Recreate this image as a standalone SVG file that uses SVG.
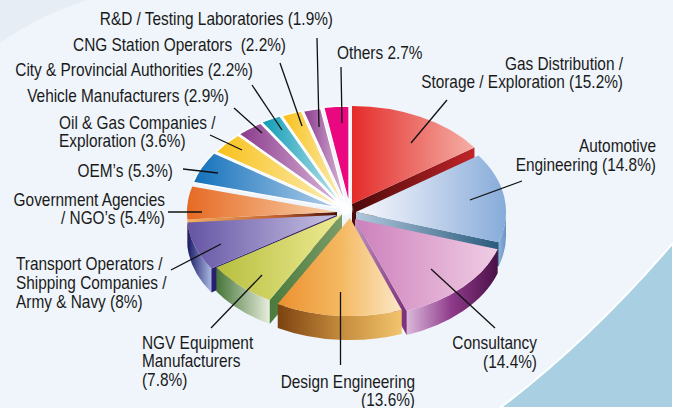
<svg xmlns="http://www.w3.org/2000/svg" width="673" height="408" viewBox="0 0 673 408">
<defs>
<style>
text{font-family:"Liberation Sans",Arial,sans-serif;font-size:17.5px;fill:#1a1a1a}
.e{text-anchor:end}
.ld{stroke:#111;stroke-width:1.3;fill:none}
.sm{stroke:#fff;stroke-width:1.3;stroke-linejoin:round}
</style>
<linearGradient id="gRed"><stop offset="0" stop-color="#e42c2a"/><stop offset="1" stop-color="#f4b0a6"/></linearGradient>
<linearGradient id="gRedSide"><stop offset="0" stop-color="#4c0a0a"/><stop offset="1" stop-color="#c02428"/></linearGradient>
<linearGradient id="gAuto"><stop offset="0" stop-color="#f6f7fc"/><stop offset="0.4" stop-color="#cfdcf0"/><stop offset="1" stop-color="#86abd9"/></linearGradient>
<linearGradient id="gAutoSide"><stop offset="0" stop-color="#b0c8dc"/><stop offset="1" stop-color="#2a5a7c"/></linearGradient>
<linearGradient id="gAutoRim"><stop offset="0" stop-color="#8fb2dc"/><stop offset="1" stop-color="#6a94c4"/></linearGradient>
<linearGradient id="gCons"><stop offset="0" stop-color="#cc80bb"/><stop offset="1" stop-color="#f0cde4"/></linearGradient>
<linearGradient id="gConsRim" gradientUnits="userSpaceOnUse" x1="406" y1="0" x2="498" y2="0"><stop offset="0" stop-color="#dcbadb"/><stop offset="0.5" stop-color="#8e3a8a"/><stop offset="1" stop-color="#4a1046"/></linearGradient>
<linearGradient id="gConsSide"><stop offset="0" stop-color="#c090c0"/><stop offset="1" stop-color="#7a3078"/></linearGradient>
<linearGradient id="gDes"><stop offset="0" stop-color="#ec9030"/><stop offset="0.5" stop-color="#f4b860"/><stop offset="1" stop-color="#fbe8c8"/></linearGradient>
<linearGradient id="gDesRim"><stop offset="0" stop-color="#7c4210"/><stop offset="0.5" stop-color="#c48a3c"/><stop offset="1" stop-color="#f2c46c"/></linearGradient>
<linearGradient id="gNgv"><stop offset="0" stop-color="#b6bf3e"/><stop offset="1" stop-color="#efeb94"/></linearGradient>
<linearGradient id="gNgvRim"><stop offset="0" stop-color="#46753a"/><stop offset="1" stop-color="#e8eedc"/></linearGradient>
<linearGradient id="gNgvSide"><stop offset="0" stop-color="#4a7a3c"/><stop offset="1" stop-color="#7c9c68"/></linearGradient>
<linearGradient id="gTr"><stop offset="0" stop-color="#6454a4"/><stop offset="1" stop-color="#c8c2e4"/></linearGradient>
<linearGradient id="gTrRim"><stop offset="0" stop-color="#1a1866"/><stop offset="1" stop-color="#a9b9e2"/></linearGradient>
<linearGradient id="gGov"><stop offset="0" stop-color="#e66a24"/><stop offset="1" stop-color="#f9d2ac"/></linearGradient>
<linearGradient id="gGovSide"><stop offset="0" stop-color="#f6b060"/><stop offset="0.6" stop-color="#c06030"/><stop offset="1" stop-color="#4a1008"/></linearGradient>
<linearGradient id="gOem"><stop offset="0" stop-color="#1170ba"/><stop offset="1" stop-color="#b4d0ea"/></linearGradient>
<linearGradient id="gYel"><stop offset="0" stop-color="#f8c018"/><stop offset="1" stop-color="#fbeeb8"/></linearGradient>
<linearGradient id="gPur"><stop offset="0" stop-color="#8a3a8c"/><stop offset="1" stop-color="#dcbcdc"/></linearGradient>
<linearGradient id="gCity"><stop offset="0" stop-color="#0e9cb6"/><stop offset="1" stop-color="#bfe3ec"/></linearGradient>
<radialGradient id="gBurst"><stop offset="0" stop-color="#fff"/><stop offset="0.6" stop-color="#fff" stop-opacity="0.8"/><stop offset="1" stop-color="#fff" stop-opacity="0"/></radialGradient>
</defs>
<rect width="673" height="408" fill="#e6edf4"/>
<path d="M0,43 Q40,15 88,0 L673,0 L673,408 L0,408 Z" fill="#eff5fa"/>
<path d="M673,243 Q590,340 500,408 L673,408 Z" fill="#a9cfe3" stroke="#fff" stroke-width="2"/>

<g id="others"><path class="sm" d="M349,204 L323.68,107.41 A150,98 0 0 1 349,106 Z" fill="#e9087f"/><text transform="translate(337,59) scale(0.88,1)">Others 2.7%</text></g>
<g id="rnd"><path class="sm" d="M346,205 L303.25,111.07 A150,98 0 0 1 320.68,108.41 Z" fill="url(#gPur)"/><text class="e" transform="translate(333,25) scale(0.88,1)">R&amp;D / Testing Laboratories (1.9%)</text></g>
<g id="cng"><path class="sm" d="M344,205 L281.84,115.81 A150,98 0 0 1 301.25,111.07 Z" fill="url(#gYel)"/><text class="e" transform="translate(286,51) scale(0.88,1)" style="white-space:pre">CNG Station Operators  (2.2%)</text></g>
<g id="city"><path class="sm" d="M342,205 L261.63,122.26 A150,98 0 0 1 279.84,115.81 Z" fill="url(#gCity)"/><text class="e" transform="translate(253,76) scale(0.88,1)">City &amp; Provincial Authorities (2.2%)</text></g>
<g id="vehicle"><path class="sm" d="M341,206 L239,134.15 A150,98 0 0 1 260.63,123.26 Z" fill="url(#gPur)"/><text class="e" transform="translate(229,102) scale(0.88,1)">Vehicle Manufacturers (2.9%)</text></g>
<g id="oilgas"><path class="sm" d="M340,207 L215.93,151.91 A150,98 0 0 1 238,135.15 Z" fill="url(#gYel)"/><text transform="translate(59,129) scale(0.88,1)">Oil &amp; Gas Companies /</text><text transform="translate(59,147) scale(0.88,1)">Exploration (3.6%)</text></g>
<g id="oem"><path class="sm" d="M338,208 L193.19,182.44 A150,98 0 0 1 213.93,152.91 Z" fill="url(#gOem)"/><text class="e" transform="translate(173,177) scale(0.88,1)">OEM’s (5.3%)</text></g>

<g id="gas"><path d="M352,204 L474.46,147.4 L474.46,171.4 L352,228 Z" fill="url(#gRedSide)"/><path d="M352,204 L352,106 A150,98 0 0 1 474.46,147.4 Z" fill="url(#gRed)"/><text class="e" transform="translate(623,70) scale(0.88,1)">Gas Distribution /</text><text class="e" transform="translate(623,88) scale(0.88,1)">Storage / Exploration (15.2%)</text></g>
<g id="government"><path d="M337,212 L187.42,219.38 L187.42,243.38 L337,236 Z" fill="url(#gGovSide)"/><path d="M337,212 L187.42,219.38 A150,98 0 0 1 192.19,186.44 Z" fill="url(#gGov)"/><text class="e" transform="translate(165,206) scale(0.88,1)">Government Agencies</text><text class="e" transform="translate(165,224) scale(0.88,1)">/ NGO’s (5.4%)</text></g>
<g id="automotive"><path d="M506,212 A150,98 0 0 1 498.67,242.28 L498.67,266.28 A150,98 0 0 0 506,236 Z" fill="url(#gAutoRim)"/><path d="M356,212 L498.67,242.28 L498.67,266.28 L356,236 Z" fill="url(#gAutoSide)"/><path d="M356,212 L478.46,155.4 A150,98 0 0 1 498.67,242.28 Z" fill="url(#gAuto)"/><text class="e" transform="translate(656,152) scale(0.88,1)">Automotive</text><text class="e" transform="translate(656,171) scale(0.88,1)">Engineering (14.8%)</text></g>
<g id="transport"><path d="M211.36,268.54 A150,98 0 0 1 187.42,222.38 L187.42,246.38 A150,98 0 0 0 211.36,292.54 Z" fill="url(#gTrRim)"/><path d="M337,215 L211.36,268.54 L211.36,292.54 L337,239 Z" fill="#2a1e70"/><path d="M337,215 L211.36,268.54 A150,98 0 0 1 187.42,222.38 Z" fill="url(#gTr)"/><text transform="translate(16,270) scale(0.88,1)">Transport Operators /</text><text transform="translate(16,289) scale(0.88,1)">Shipping Companies /</text><text transform="translate(16,308) scale(0.88,1)">Army &amp; Navy (8%)</text></g>
<g id="consultancy"><path d="M497.67,249.28 A150,98 0 0 1 406.71,310.99 L406.71,334.99 A150,98 0 0 0 497.67,273.28 Z" fill="url(#gConsRim)"/><path d="M355,219 L406.71,310.99 L406.71,334.99 L355,243 Z" fill="url(#gConsSide)"/><path d="M355,219 L497.67,249.28 A150,98 0 0 1 406.71,310.99 Z" fill="url(#gCons)"/><text class="e" transform="translate(537,349) scale(0.88,1)">Consultancy</text><text class="e" transform="translate(537,368) scale(0.88,1)">(14.4%)</text></g>
<g id="ngv"><path d="M269.73,299.88 A150,98 0 0 1 216.36,267.54 L216.36,291.54 A150,98 0 0 0 269.73,323.88 Z" fill="url(#gNgvRim)"/><path d="M342,214 L269.73,299.88 L269.73,323.88 L342,238 Z" fill="url(#gNgvSide)"/><path d="M342,214 L269.73,299.88 A150,98 0 0 1 216.36,267.54 Z" fill="url(#gNgv)"/><text transform="translate(142,349) scale(0.88,1)">NGV Equipment</text><text transform="translate(142,367) scale(0.88,1)">Manufacturers</text><text transform="translate(142,386) scale(0.88,1)">(7.8%)</text></g>
<g id="design"><path d="M401.71,309.99 A150,98 0 0 1 277.73,303.88 L277.73,327.88 A150,98 0 0 0 401.71,333.99 Z" fill="url(#gDesRim)"/><path d="M350,218 L401.71,309.99 A150,98 0 0 1 277.73,303.88 Z" fill="url(#gDes)"/><text class="e" transform="translate(415,388) scale(0.88,1)">Design Engineering</text><text class="e" transform="translate(415,406) scale(0.88,1)">(13.6%)</text></g>
<circle cx="346" cy="209" r="8" fill="url(#gBurst)"/>

<g id="connectors" class="ld">
<path d="M317,38 L319,127"/>
<path d="M280,63 L302,126"/>
<path d="M252,85 L282,130"/>
<path d="M234,108 L262,133"/>
<path d="M210,135 L242,150"/>
<path d="M183,169 L218,173"/>
<path d="M168,212 L202,212"/>
<path d="M171,270 L221,244"/>
<path d="M211,328 L262,275"/>
<path d="M340.5,292 L340.5,365"/>
<path d="M431,269 L495,328"/>
<path d="M522,181 L470,200"/>
<path d="M447,100 L411,143"/>
<path d="M341,67 L342,123"/>
</g>
</svg>
